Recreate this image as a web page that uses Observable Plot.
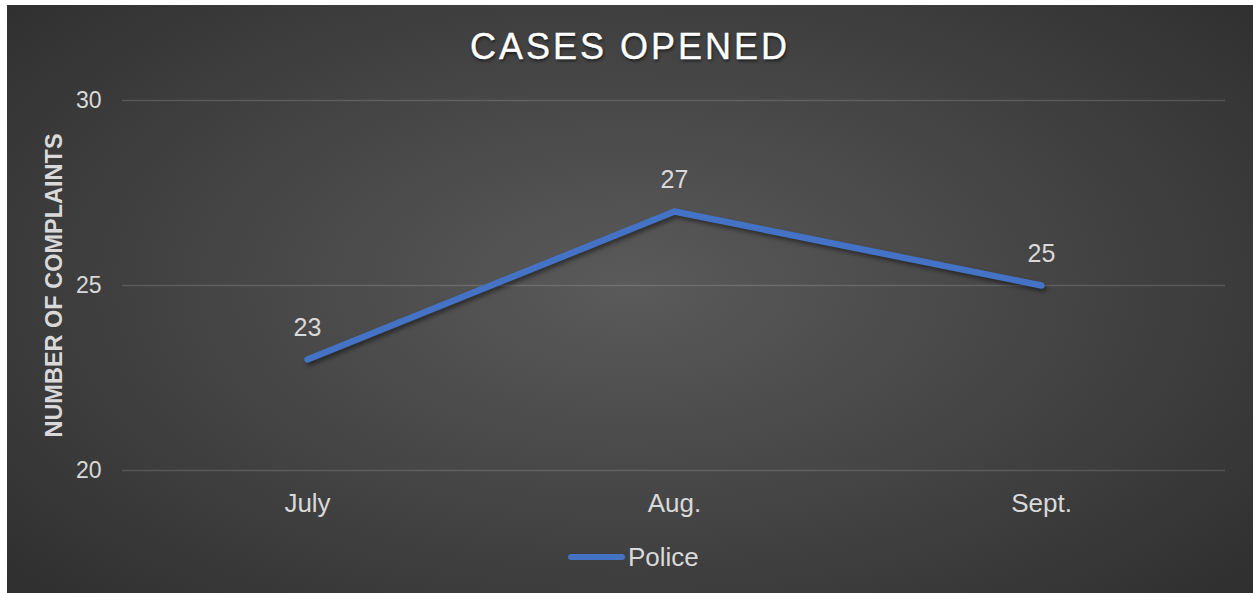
<!DOCTYPE html>
<html>
<head>
<meta charset="utf-8">
<script src="https://cdn.jsdelivr.net/npm/d3@7"></script>
<script src="https://cdn.jsdelivr.net/npm/@observablehq/plot@0.6"></script>
<style>
  html, body { margin: 0; padding: 0; background: #ffffff; }
  body { width: 1253px; height: 593px; position: relative; overflow: hidden; font-family: "Liberation Sans", Arial, sans-serif; }
  #chart {
    position: absolute; left: 7px; top: 5px; width: 1246px; height: 588px;
    background: radial-gradient(ellipse 75% 85% at 50% 48%, #5a5a5a 0%, #474747 40%, #2a2a2a 100%);
    overflow: hidden;
  }
  #title {
    position: absolute; left: 0; top: 22px; width: 1246px; text-align: center;
    color: #ffffff; font-size: 36px; letter-spacing: 3px; line-height: 40px;
    -webkit-text-stroke: 0.4px #ffffff;
    text-shadow: 1px 2px 3px rgba(0,0,0,0.6);
  }
  #plot { position: absolute; left: 0; top: 75px; }
  #legend {
    position: absolute; left: 561px; top: 537px; height: 30px;
    display: flex; align-items: center; color: #d9d9d9; font-size: 26px;
  }
  #legend .swatch { display: inline-block; width: 57px; height: 6px; border-radius: 3px; background: #4472C4; margin-right: 3px; }
  #plot g[aria-label="line"] path { filter: drop-shadow(2px 3px 2px rgba(0,0,0,0.45)); }
</style>
</head>
<body>
<div id="chart">
  <div id="title">CASES OPENED</div>
  <div id="plot"></div>
  <div id="legend"><span class="swatch"></span><span>Police</span></div>
</div>
<script>
const months = ["July", "Aug.", "Sept."];
const police = [23, 27, 25];
const yTicks = [20, 25, 30];
const yLabel = "NUMBER OF COMPLAINTS";

const data = months.map((m, i) => ({month: m, value: police[i]}));

const chart = Plot.plot({
  width: 1246,
  height: 440,
  marginTop: 20,
  marginBottom: 50,
  marginLeft: 115,
  marginRight: 28,
  style: {background: "transparent", color: "#d9d9d9", fontFamily: "'Liberation Sans', Arial, sans-serif", overflow: "visible"},
  x: {type: "point", domain: months, padding: 0.5, label: null},
  y: {domain: [20, 30], label: null},
  marks: [
    Plot.gridY(yTicks, {stroke: "#ffffff", strokeOpacity: 0.14, strokeWidth: 1.3}),
    Plot.axisY(yTicks, {tickSize: 0, tickPadding: 21, fontSize: 23, label: null}),
    Plot.axisX({tickSize: 0, tickPadding: 23, fontSize: 26, label: null}),
    Plot.line(data, {x: "month", y: "value", stroke: "#4472C4", strokeWidth: 6.5, strokeLinecap: "round", strokeLinejoin: "round"}),
    Plot.text(data, {x: "month", y: "value", text: d => String(d.value), dy: -32, fontSize: 25, fill: "#d9d9d9"}),
    Plot.text([yLabel], {frameAnchor: "left", textAnchor: "middle", lineAnchor: "middle", dx: -68, rotate: -90, fontSize: 23.5, fontWeight: "bold", fill: "#d9d9d9"})
  ]
});
document.getElementById("plot").appendChild(chart);
</script>
</body>
</html>
